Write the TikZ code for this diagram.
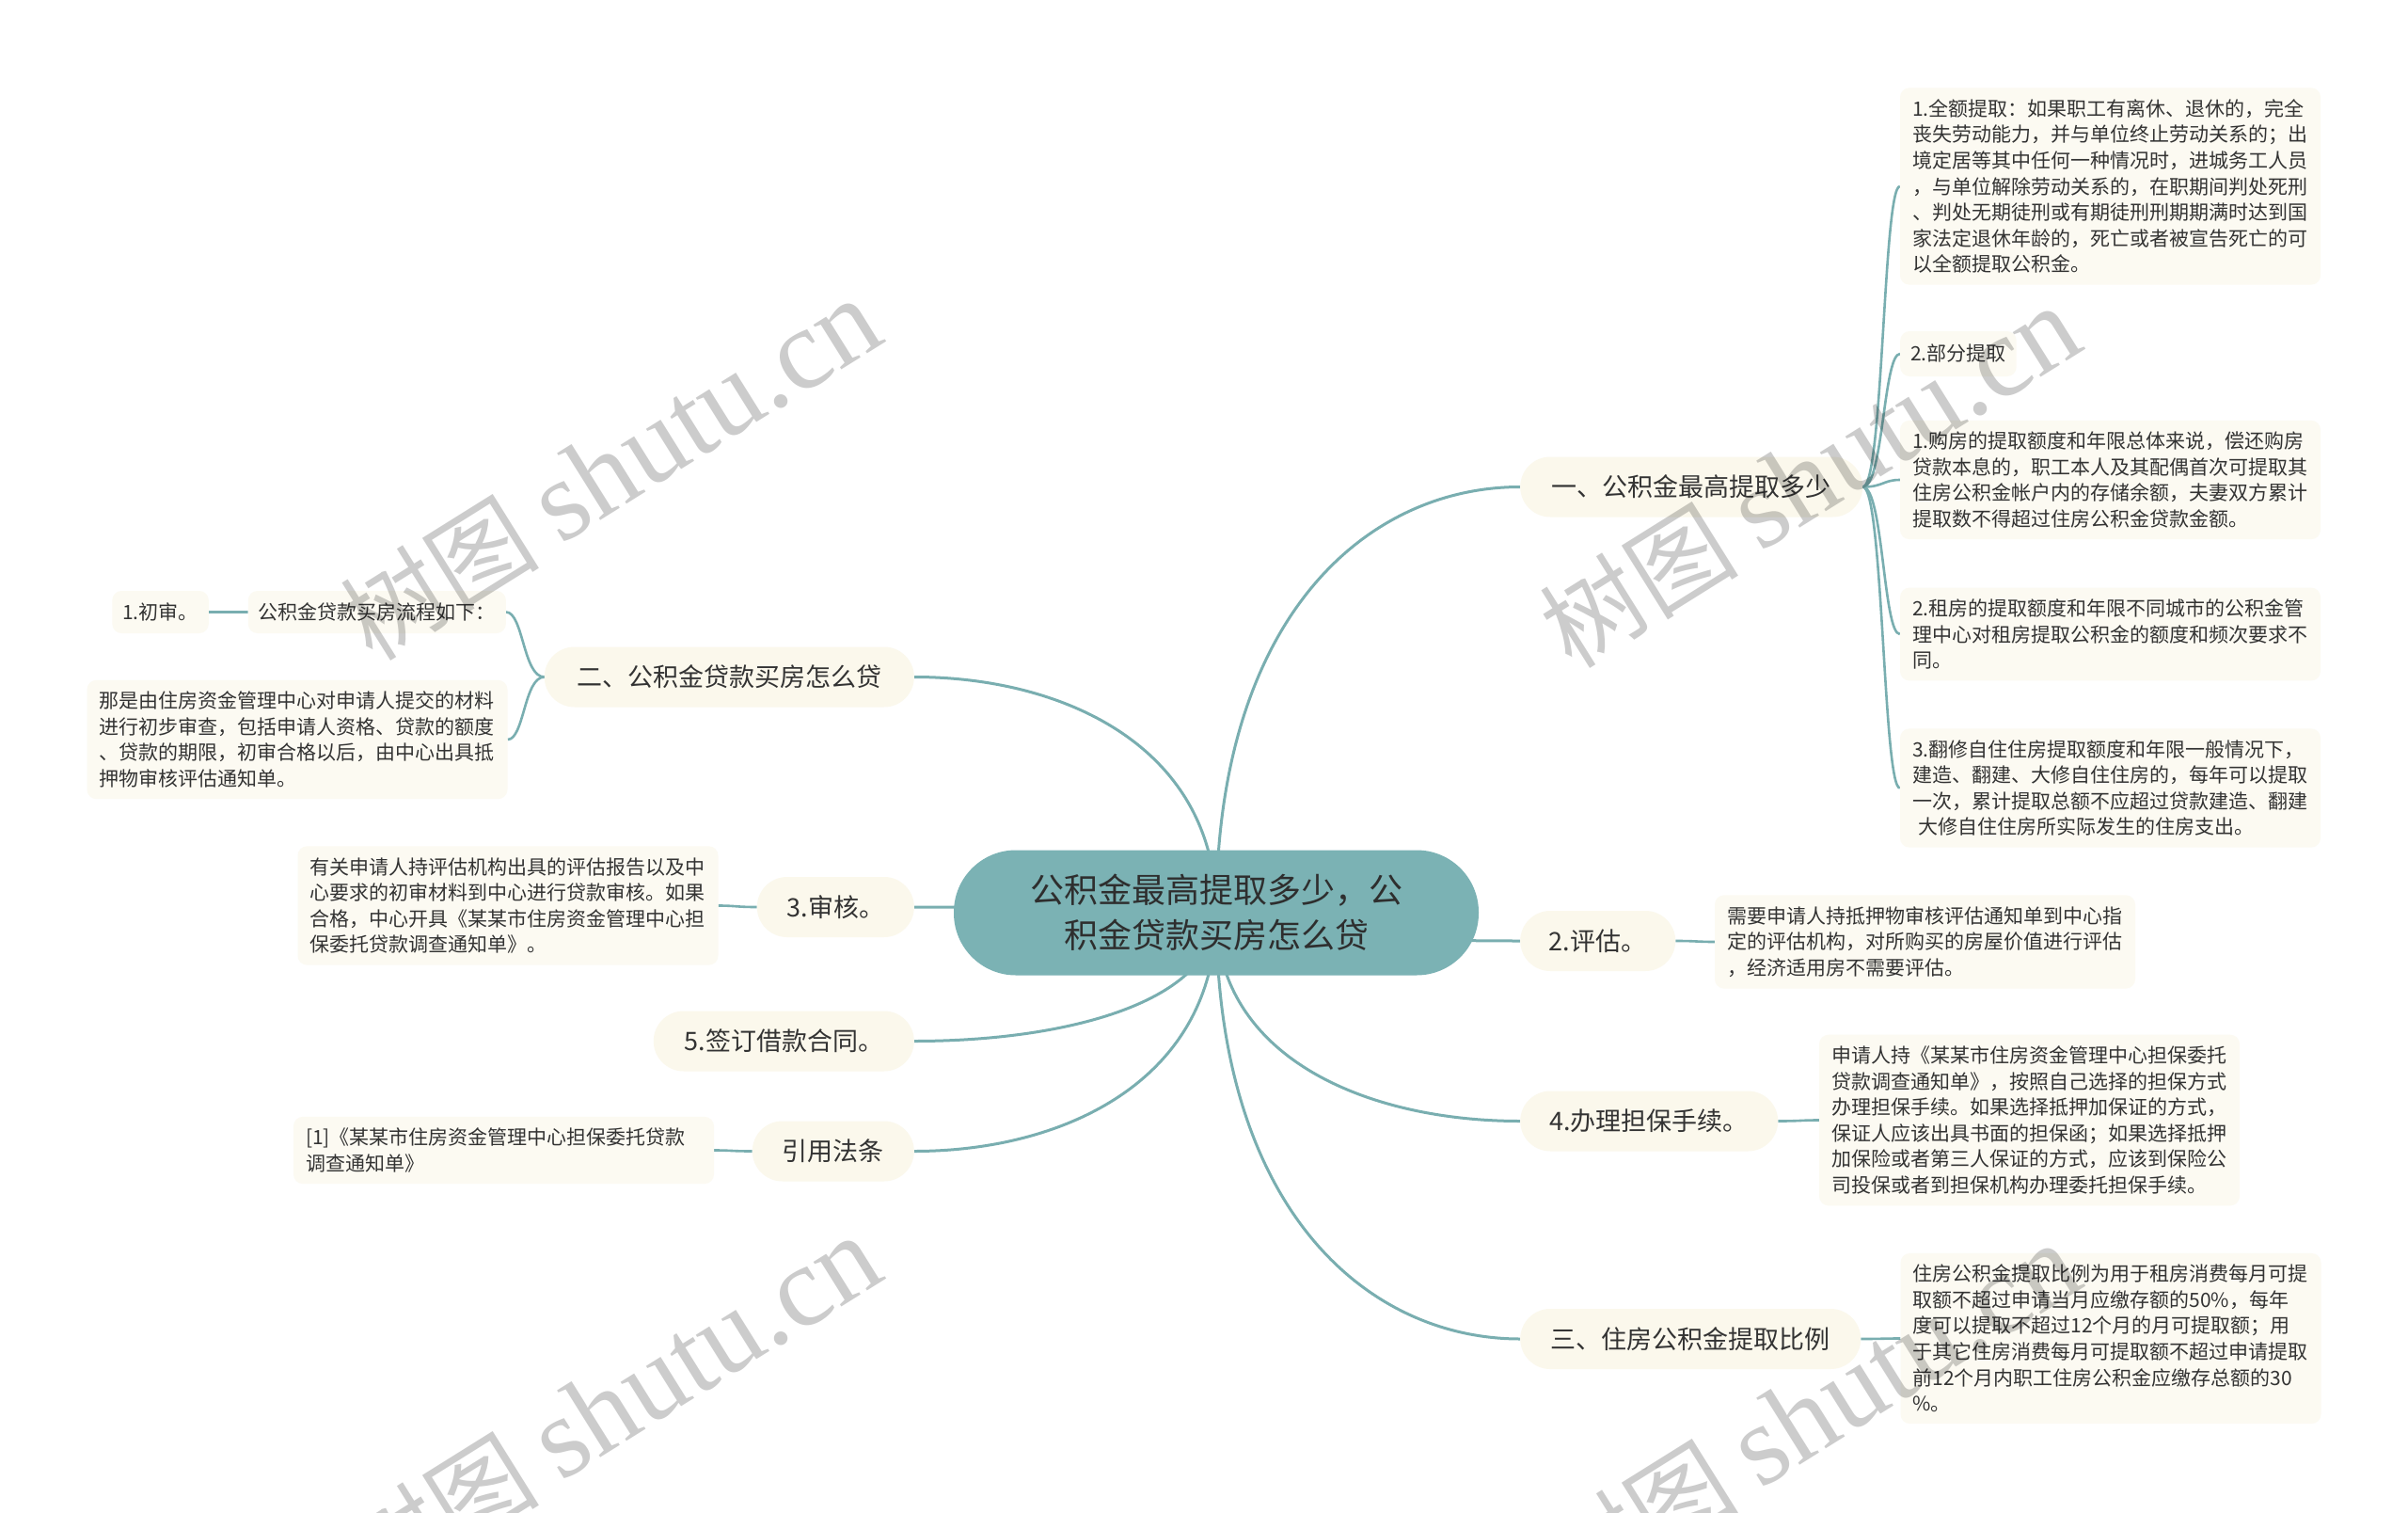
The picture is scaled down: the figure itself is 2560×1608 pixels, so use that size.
\documentclass[tikz,border=0pt]{standalone}
\usepackage{fontspec}
\setmainfont{Noto Sans CJK SC}
\newfontfamily\wmserif{Liberation Serif}
\usetikzlibrary{calc}
\definecolor{rootfill}{HTML}{7BB2B4}
\definecolor{lnc}{HTML}{79AEB0}
\definecolor{leaff}{HTML}{FCFAF2}
\definecolor{brf}{HTML}{FBF8EC}
\definecolor{txt}{HTML}{333333}
\pgfdeclarelayer{bg}
\pgfsetlayers{bg,main}
\newcommand\mbranch[1]{\draw[conn] (c.center) .. controls ($(c.center)!0.7!(c.center|-#1)$) and ($(c.center|-#1)!0.5!(#1)$) .. (#1);}
\newcommand\lk[2]{\draw[lconn] (#1) .. controls ($(#1)!0.55!(#1-|#2)$) and ($(#1|-#2)!0.55!(#2)$) .. (#2);}
\begin{document}
\begin{tikzpicture}[x=1pt,y=-1pt,
  conn/.style={draw=lnc,line width=3pt},
  lconn/.style={draw=lnc,line width=2.6pt},
  root/.style={fill=rootfill,rounded corners=66pt,minimum width=558pt,minimum height=133pt,align=center,font=\fontsize{36}{48}\selectfont,text=black!82,inner sep=0pt},
  br/.style={fill=brf,rounded corners=32pt,minimum height=64pt,font=\fontsize{27}{32}\selectfont,text=txt,inner sep=0pt},
  leaf/.style={fill=leaff,rounded corners=10pt,align=left,font=\fontsize{21}{27.6}\selectfont,text=txt,inner xsep=13pt,inner ysep=12pt,text width=421pt},
  sleaf/.style={fill=leaff,rounded corners=10pt,font=\fontsize{21}{27.6}\selectfont,text=txt,inner xsep=11pt,inner ysep=0pt,minimum height=46pt},
  wm/.style={font=\fontsize{106}{106}\selectfont,text=black,text opacity=0.2,rotate=32,inner sep=0pt}
]
\useasboundingbox (0,0) rectangle (2560,1608);

% root
\node[root] (c) at (1293,970) {公积金最高提取多少，公\\积金贷款买房怎么贷};

% right branches
\node[br,anchor=west,minimum width=364pt] (r1) at (1616,517.5) {一、公积金最高提取多少};
\node[br,anchor=west,minimum width=165pt] (r2) at (1616,1000) {2.评估。};
\node[br,anchor=west,minimum width=274pt] (r3) at (1616,1191.5) {4.办理担保手续。};
\node[br,anchor=west,minimum width=362pt] (r4) at (1616,1423) {三、住房公积金提取比例};

% left branches
\node[br,anchor=east,minimum width=393pt] (b1) at (972,719.5) {二、公积金贷款买房怎么贷};
\node[br,anchor=east,minimum width=167pt] (b2) at (972,964) {3.审核。};
\node[br,anchor=east,minimum width=277pt] (b3) at (972,1106.5) {5.签订借款合同。};
\node[br,anchor=east,minimum width=172pt] (b4) at (972,1223.5) {引用法条};

% right leaves
\node[leaf] (a1) at (2243.5,198) {1.全额提取：如果职工有离休、退休的，完全\\丧失劳动能力，并与单位终止劳动关系的；出\\境定居等其中任何一种情况时，进城务工人员\\，与单位解除劳动关系的，在职期间判处死刑\\、判处无期徒刑或有期徒刑刑期期满时达到国\\家法定退休年龄的，死亡或者被宣告死亡的可\\以全额提取公积金。};
\node[sleaf,anchor=west,minimum height=48pt] (a2) at (2020,376) {2.部分提取};
\node[leaf] (a3) at (2243.5,510) {1.购房的提取额度和年限总体来说，偿还购房\\贷款本息的，职工本人及其配偶首次可提取其\\住房公积金帐户内的存储余额，夫妻双方累计\\提取数不得超过住房公积金贷款金额。};
\node[leaf] (a4) at (2243.5,674) {2.租房的提取额度和年限不同城市的公积金管\\理中心对租房提取公积金的额度和频次要求不\\同。};
\node[leaf] (a5) at (2243.5,837.5) {3.翻修自住住房提取额度和年限一般情况下，\\建造、翻建、大修自住住房的，每年可以提取\\一次，累计提取总额不应超过贷款建造、翻建\\\hspace*{0.3em}大修自住住房所实际发生的住房支出。};
\node[leaf] (e1) at (2046.5,1001) {需要申请人持抵押物审核评估通知单到中心指\\定的评估机构，对所购买的房屋价值进行评估\\，经济适用房不需要评估。};
\node[leaf] (g1) at (2157.5,1190.5) {申请人持《某某市住房资金管理中心担保委托\\贷款调查通知单》，按照自己选择的担保方式\\办理担保手续。如果选择抵押加保证的方式，\\保证人应该出具书面的担保函；如果选择抵押\\加保险或者第三人保证的方式，应该到保险公\\司投保或者到担保机构办理委托担保手续。};
\node[leaf] (p1) at (2244,1422.5) {住房公积金提取比例为用于租房消费每月可提\\取额不超过申请当月应缴存额的50\%，每年\\度可以提取不超过12个月的月可提取额；用\\于其它住房消费每月可提取额不超过申请提取\\前12个月内职工住房公积金应缴存总额的30\\\%。};

% left leaves
\node[sleaf,anchor=east,minimum height=45pt] (f1) at (538,650.5) {公积金贷款买房流程如下：};
\node[sleaf,anchor=east,minimum height=45pt] (f0) at (222,650.5) {1.初审。};
\node[leaf] (f2) at (316,786) {那是由住房资金管理中心对申请人提交的材料\\进行初步审查，包括申请人资格、贷款的额度\\、贷款的期限，初审合格以后，由中心出具抵\\押物审核评估通知单。};
\node[leaf] (s1) at (540,962.5) {有关申请人持评估机构出具的评估报告以及中\\心要求的初审材料到中心进行贷款审核。如果\\合格，中心开具《某某市住房资金管理中心担\\保委托贷款调查通知单》。};
\node[leaf] (q1) at (535.5,1222.5) {[1]《某某市住房资金管理中心担保委托贷款\\调查通知单》};

\begin{pgfonlayer}{bg}
\fill[white] (0,0) rectangle (2560,1608);
\mbranch{r1.west}
\mbranch{r2.west}
\mbranch{r3.west}
\mbranch{r4.west}
\mbranch{b1.east}
\mbranch{b2.east}
\mbranch{b3.east}
\mbranch{b4.east}
\lk{r1.east}{a1.west}
\lk{r1.east}{a2.west}
\lk{r1.east}{a3.west}
\lk{r1.east}{a4.west}
\lk{r1.east}{a5.west}
\lk{r2.east}{e1.west}
\lk{r3.east}{g1.west}
\lk{r4.east}{p1.west}
\lk{b1.west}{f1.east}
\lk{b1.west}{f2.east}
\lk{f1.west}{f0.east}
\lk{b2.west}{s1.east}
\lk{b4.west}{q1.east}
\end{pgfonlayer}

% watermarks
\node[wm] (w1) at (649,499) {树图 {\wmserif\fontsize{122}{122}\selectfont shutu.cn}};
\node[wm] (w2) at (1924,507) {树图 {\wmserif\fontsize{122}{122}\selectfont shutu.cn}};
\node[wm] (w3) at (649,1495) {树图 {\wmserif\fontsize{122}{122}\selectfont shutu.cn}};
\node[wm] (w4) at (1924,1503) {树图 {\wmserif\fontsize{122}{122}\selectfont shutu.cn}};
\end{tikzpicture}
\end{document}
